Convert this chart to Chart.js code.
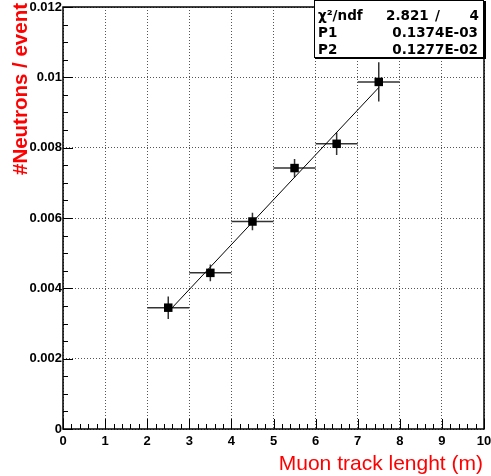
<!DOCTYPE html>
<html>
<head>
<meta charset="utf-8">
<script src="https://cdn.jsdelivr.net/npm/chart.js@4.4.1/dist/chart.umd.min.js"></script>
<style>
  html, body { margin: 0; padding: 0; background: #fff; }
  canvas { display: block; }
</style>
</head>
<body>
<canvas id="neutronChart" width="491" height="476"></canvas>
<script>
/* =============================================================================
   DATA
   ============================================================================= */

const trackLength  = [2.5, 3.5, 4.5, 5.5, 6.5, 7.5];            // m
const neutronYield = [0.00345, 0.00444, 0.00590, 0.00742, 0.00811, 0.00987];
const lengthErr    = [0.5, 0.5, 0.5, 0.5, 0.5, 0.5];
const yieldErr     = [0.00032, 0.00024, 0.00025, 0.00026, 0.00032, 0.00056];

/* fitted straight line, end points */
const fitX = [2.5, 7.5];
const fitY = [0.00333, 0.00971];

const xTickLabels = ['0','1','2','3','4','5','6','7','8','9','10'];
const yTickLabels = ['0','0.002','0.004','0.006','0.008','0.01','0.012'];

const statsRows = [
  ['\u03C7\u00B2/ndf', '2.821', '/', '4'],
  ['P1', '0.1374E-03'],
  ['P2', '0.1277E-02'],
];

const xTitle = 'Muon track lenght (m)';
const yTitle = '#Neutrons / event';

/* =============================================================================
   PLUGINS — error bars, inside ticks, frame, titles, stats box
   ============================================================================= */

const errorBars = {
  id: 'errorBars',
  beforeDatasetsDraw(chart) {
    const { ctx, scales: { x, y } } = chart;
    ctx.save();
    ctx.strokeStyle = '#333';
    ctx.lineWidth = 1.5;
    trackLength.forEach((xv, i) => {
      const px = x.getPixelForValue(xv);
      const py = y.getPixelForValue(neutronYield[i]);
      ctx.beginPath();
      ctx.moveTo(x.getPixelForValue(xv - lengthErr[i]), py);
      ctx.lineTo(x.getPixelForValue(xv + lengthErr[i]), py);
      ctx.moveTo(px, y.getPixelForValue(neutronYield[i] - yieldErr[i]));
      ctx.lineTo(px, y.getPixelForValue(neutronYield[i] + yieldErr[i]));
      ctx.stroke();
    });
    ctx.restore();
  }
};

const rootFrame = {
  id: 'rootFrame',
  afterDraw(chart) {
    const { ctx, chartArea: a, scales: { x, y } } = chart;
    ctx.save();
    ctx.strokeStyle = '#000';
    ctx.lineWidth = 1;

    /* ticks pointing into the frame */
    ctx.beginPath();
    for (let k = 0; k <= 50; k++) {
      const px = Math.round(x.getPixelForValue(k * 0.2)) + 0.5;
      const len = k % 5 === 0 ? 10 : 5;
      ctx.moveTo(px, a.bottom);
      ctx.lineTo(px, a.bottom - len);
    }
    for (let k = 0; k <= 24; k++) {
      const py = Math.round(y.getPixelForValue(k * 0.0005)) + 0.5;
      const len = k % 4 === 0 ? 10 : 5;
      ctx.moveTo(a.left, py);
      ctx.lineTo(a.left + len, py);
    }
    ctx.stroke();

    ctx.lineWidth = 1.5;
    ctx.strokeRect(a.left, a.top, a.right - a.left, a.bottom - a.top);

    /* axis titles */
    ctx.fillStyle = '#ff0000';
    ctx.font = '21px "Liberation Sans", Arial, sans-serif';
    ctx.textAlign = 'right';
    ctx.textBaseline = 'alphabetic';
    ctx.fillText(xTitle, 483, 470);

    ctx.translate(27, 3);
    ctx.rotate(-Math.PI / 2);
    ctx.font = 'bold 20.5px "Liberation Sans", Arial, sans-serif';
    ctx.textAlign = 'right';
    ctx.fillText(yTitle, 0, 0);
    ctx.restore();

    /* stats box */
    ctx.save();
    ctx.fillStyle = '#fff';
    ctx.fillRect(314, 0, 170, 58);
    ctx.strokeStyle = '#000';
    ctx.lineWidth = 1;
    ctx.strokeRect(314.5, 0.5, 169, 57);
    ctx.lineWidth = 2;
    ctx.beginPath();
    ctx.moveTo(315, 58); ctx.lineTo(485, 58); ctx.lineTo(485, 1);
    ctx.stroke();

    ctx.fillStyle = '#000';
    ctx.font = 'bold 13.5px "DejaVu Sans", sans-serif';
    ctx.textBaseline = 'middle';
    const rowY = [16, 33, 50];
    statsRows.forEach((row, i) => {
      ctx.textAlign = 'left';
      ctx.fillText(row[0], 318, rowY[i]);
      if (row.length === 4) {
        ctx.fillText(row[1], 386, rowY[i]);
        ctx.fillText(row[2], 435, rowY[i]);
        ctx.textAlign = 'right';
        ctx.fillText(row[3], 479, rowY[i]);
      } else {
        ctx.textAlign = 'right';
        ctx.fillText(row[1], 478, rowY[i]);
      }
    });
    ctx.restore();
  }
};

/* =============================================================================
   CHART
   ============================================================================= */

const tickFont = { family: '"Liberation Sans", Arial, sans-serif', size: 13, weight: 'bold' };

new Chart(document.getElementById('neutronChart'), {
  type: 'scatter',
  data: {
    datasets: [
      {
        label: 'data',
        data: trackLength.map((xv, i) => ({ x: xv, y: neutronYield[i] })),
        pointStyle: 'rect',
        pointRadius: 6,
        backgroundColor: '#000',
        borderColor: '#000',
        borderWidth: 0,
        order: 0,
      },
      {
        label: 'fit',
        data: fitX.map((xv, i) => ({ x: xv, y: fitY[i] })),
        showLine: true,
        pointRadius: 0,
        borderColor: '#000',
        borderWidth: 1,
        order: 1,
      }
    ]
  },
  options: {
    responsive: false,
    animation: false,
    layout: { padding: { top: 7, right: 7, left: 0, bottom: 0 } },
    plugins: { legend: { display: false }, tooltip: { enabled: false } },
    scales: {
      x: {
        type: 'linear',
        min: 0, max: 10,
        afterFit: s => { s.height = 47; s.paddingLeft = 0; s.paddingRight = 0; },
        border: { display: false, dash: [1, 2] },
        grid: { color: '#555', drawTicks: false },
        ticks: {
          stepSize: 1,
          padding: 5,
          maxRotation: 0,
          color: '#000',
          font: tickFont,
          callback: (v, i) => xTickLabels[i]
        }
      },
      y: {
        type: 'linear',
        min: 0, max: 0.012,
        afterFit: s => { s.width = 63; s.paddingTop = 0; s.paddingBottom = 0; },
        border: { display: false, dash: [1, 2] },
        grid: { color: '#555', drawTicks: false },
        ticks: {
          stepSize: 0.002,
          padding: 1,
          color: '#000',
          font: tickFont,
          callback: (v, i) => yTickLabels[i]
        }
      }
    }
  },
  plugins: [errorBars, rootFrame]
});
</script>
</body>
</html>
